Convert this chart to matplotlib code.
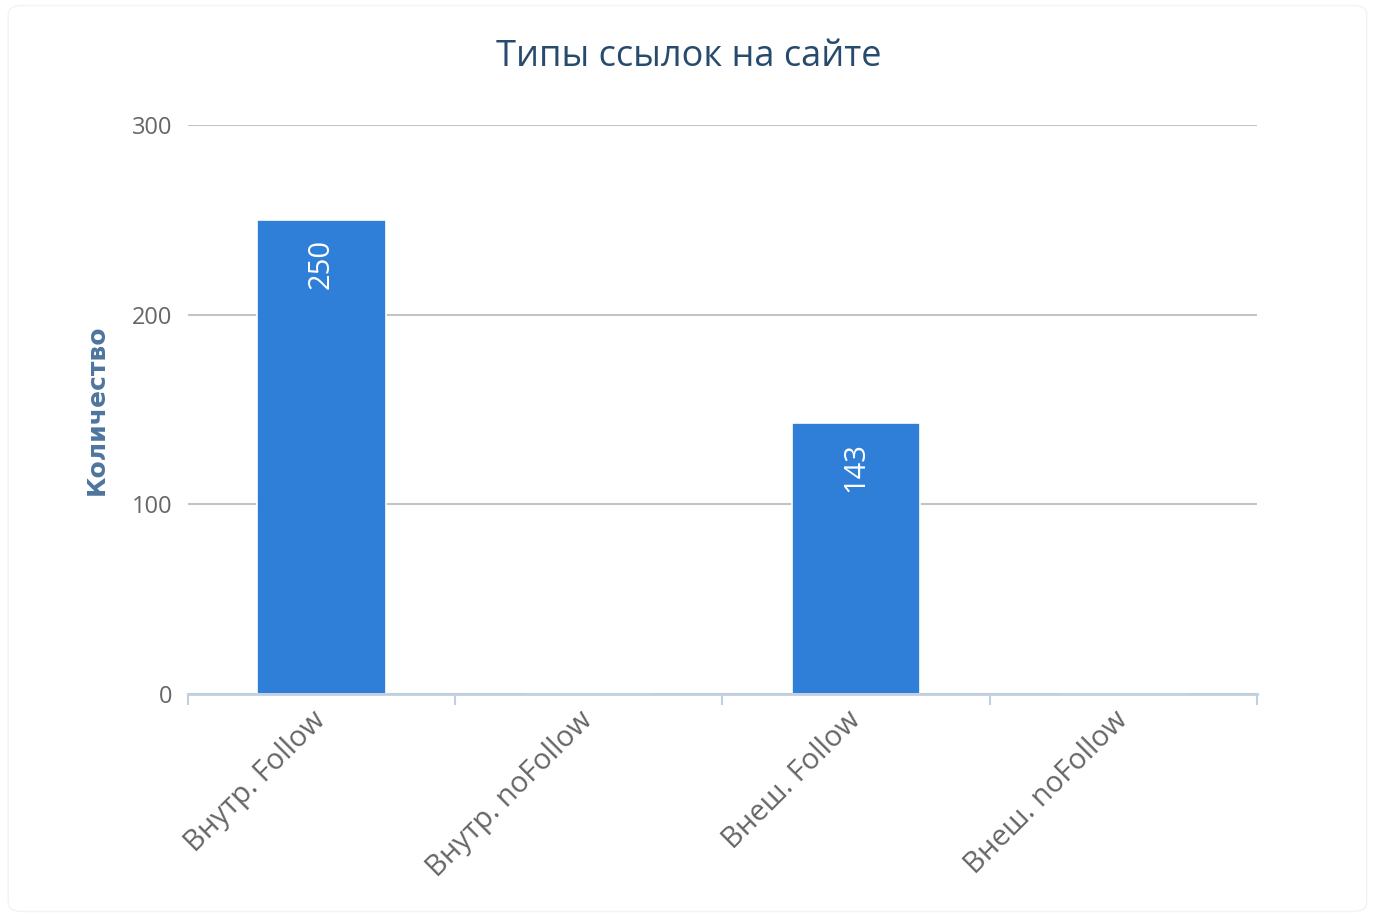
import numpy as np
import matplotlib as mpl
mpl.use('Agg')
import matplotlib.pyplot as plt
from matplotlib.patches import FancyBboxPatch

categories = ["Внутр. Follow", "Внутр. noFollow", "Внеш. Follow", "Внеш. noFollow"]
values = [250, 0, 143, 0]
yticks = [0, 100, 200, 300]

plt.rcParams['font.family'] = ['Open Sans', 'DejaVu Sans']

fig = plt.figure(figsize=(13.75, 9.17), dpi=100)
# faint rounded frame around the chart
fig.patches.append(FancyBboxPatch((0.006, 0.006), 0.988, 0.988, boxstyle="round,pad=0,rounding_size=0.01",
                                  transform=fig.transFigure, fill=False, ec='#f3f3f3', lw=1.0))
ax = fig.add_axes([0.1367, 0.2432, 0.7775, 0.6205])

x = np.arange(len(categories))
bars = ax.bar(x, values, width=0.48, color='#2f7ed8', edgecolor='white', linewidth=1.2, zorder=3)

for xi, v in zip(x, values):
    if v > 0:
        ax.annotate(str(v), (xi, v), xytext=(0, -14), textcoords='offset points',
                    rotation=90, ha='center', va='top', color='white', fontsize=21, zorder=4)

ax.set_xlim(-0.5, len(categories) - 0.5)
ax.set_ylim(0, 300)
ax.set_yticks(yticks)
ax.yaxis.grid(True, color='#c4c4c4', linewidth=1.5, zorder=1)
ax.set_axisbelow(True)

for s in ['top', 'right', 'left']:
    ax.spines[s].set_visible(False)
ax.spines['bottom'].set_color('#c0d0e0')
ax.spines['bottom'].set_linewidth(2)
ax.spines['bottom'].set_zorder(5)

ax.tick_params(axis='y', length=0, pad=11, labelsize=17, labelcolor='#666666')
ax.set_xticks(x)
ax.set_xticklabels(categories, rotation=45, ha='right', va='center', rotation_mode='anchor',
                   fontsize=21, color='#666666')
ax.tick_params(axis='x', which='major', length=0, pad=16)
ax.set_xticks(np.arange(-0.5, len(categories)), minor=True)
ax.tick_params(axis='x', which='minor', length=8, width=1.5, color='#c0d0e0')

ax.set_ylabel("Количество", fontsize=18, fontweight='bold', color='#4d759e',
              family='DejaVu Sans', labelpad=17)
fig.suptitle("Типы ссылок на сайте", x=0.501, y=0.958, fontsize=26, color='#274b6d')

plt.savefig('out.png', dpi=100)
plt.close()
